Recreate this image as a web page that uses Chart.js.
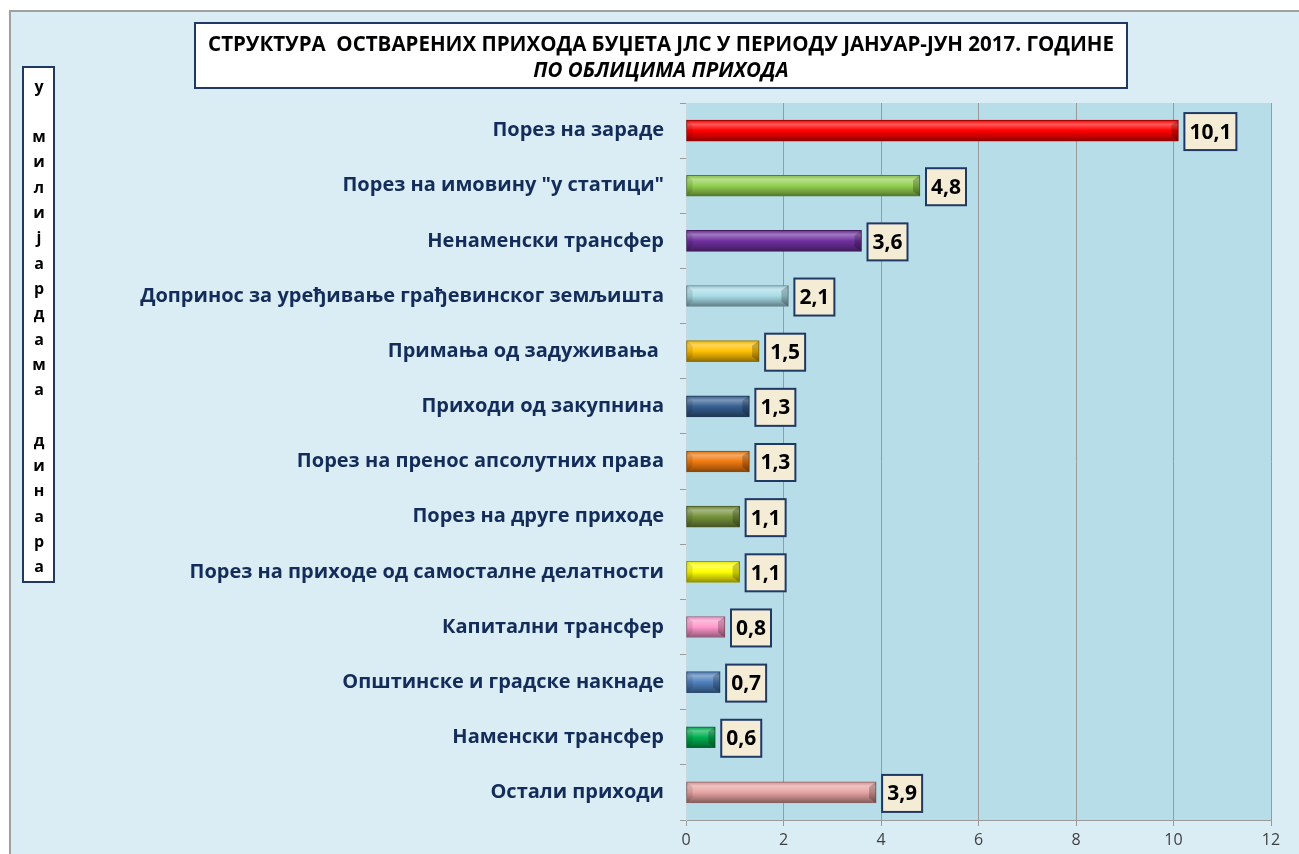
<!DOCTYPE html>
<html>
<head>
<meta charset="utf-8">
<script src="https://cdn.jsdelivr.net/npm/chart.js@4/dist/chart.umd.min.js"></script>
<style>
  html, body { margin: 0; padding: 0; background: #fff; }
  #wrap { width: 1299px; height: 854px; position: relative; }
</style>
</head>
<body>
<div id="wrap"><canvas id="chart" width="1299" height="854"></canvas></div>
<script>
const categories = [
  "Порез на зараде",
  "Порез на имовину \"у статици\"",
  "Ненаменски трансфер",
  "Допринос за уређивање грађевинског земљишта",
  "Примања од задуживања ",
  "Приходи од закупнина",
  "Порез на пренос апсолутних права",
  "Порез на друге приходе",
  "Порез на приходе од самосталне делатности",
  "Капитални трансфер",
  "Општинске и градске накнаде",
  "Наменски трансфер",
  "Остали приходи"
];
const values = [10.1, 4.8, 3.6, 2.1, 1.5, 1.3, 1.3, 1.1, 1.1, 0.8, 0.7, 0.6, 3.9];
const barColors = [
  "#ff0000", "#92d050", "#7030a0", "#a8dbe6", "#ffc000", "#376092", "#f07a10",
  "#76923c", "#ffff00", "#ff99cc", "#4f81bd", "#00b050", "#e6a3a2"
];
const xTicks = [0, 2, 4, 6, 8, 10, 12];
const titleLines = ["СТРУКТУРА  ОСТВАРЕНИХ ПРИХОДА БУЏЕТА ЈЛС У ПЕРИОДУ ЈАНУАР-ЈУН 2017. ГОДИНЕ", "ПО ОБЛИЦИМА ПРИХОДА"];
const yTitleLetters = ["у", "", "м", "и", "л", "и", "ј", "а", "р", "д", "а", "м", "а", "", "д", "и", "н", "а", "р", "а"];

const FONT = "'Open Sans', 'Noto Sans', 'DejaVu Sans', sans-serif";

function shade(hex, amt) {
  // amt > 0 lighten toward white, < 0 darken toward black
  const n = parseInt(hex.slice(1), 16);
  let r = n >> 16, g = (n >> 8) & 255, b = n & 255;
  const t = amt < 0 ? 0 : 255, p = Math.abs(amt);
  r = Math.round(r + (t - r) * p); g = Math.round(g + (t - g) * p); b = Math.round(b + (t - b) * p);
  return `rgb(${r},${g},${b})`;
}

function barFill(ctx) {
  const chart = ctx.chart;
  const base = barColors[ctx.dataIndex];
  if (!chart.chartArea || !chart.scales.y) return base;
  const yc = chart.scales.y.getPixelForValue(ctx.dataIndex);
  const g = chart.ctx.createLinearGradient(0, yc - 10.5, 0, yc + 10.5);
  g.addColorStop(0, shade(base, -0.1));
  g.addColorStop(0.2, shade(base, 0.35));
  g.addColorStop(0.5, base);
  g.addColorStop(0.8, shade(base, -0.25));
  g.addColorStop(1, shade(base, -0.45));
  return g;
}

const decor = {
  id: "decor",
  beforeDraw(chart) {
    const c = chart.ctx, a = chart.chartArea;
    c.save();
    c.fillStyle = "#ffffff";
    c.fillRect(0, 0, chart.width, chart.height);
    c.fillStyle = "#daedf4";
    c.fillRect(10, 11, chart.width - 10, chart.height - 11);
    c.strokeStyle = "#a0a0a0";
    c.lineWidth = 2;
    c.beginPath();
    c.moveTo(10, chart.height); c.lineTo(10, 11); c.lineTo(chart.width, 11);
    c.stroke();
    c.fillStyle = "#b7dde8";
    c.fillRect(a.left, a.top, a.right - a.left, a.bottom - a.top);
    c.restore();
  },
  afterDatasetsDraw(chart) {
    const c = chart.ctx;
    const meta = chart.getDatasetMeta(0);
    c.save();
    // bevel ends
    meta.data.forEach((bar, i) => {
      const h = 21, top = bar.y - h / 2, x0 = bar.base, x1 = bar.x;
      c.fillStyle = "rgba(0,0,0,0.22)";
      c.beginPath();
      c.moveTo(x1, top); c.lineTo(x1 - 7, top + 5); c.lineTo(x1 - 7, top + h - 5); c.lineTo(x1, top + h);
      c.closePath(); c.fill();
      c.fillStyle = "rgba(0,0,0,0.1)";
      c.beginPath();
      c.moveTo(x0, top); c.lineTo(x0 + 6, top + 5); c.lineTo(x0 + 6, top + h - 5); c.lineTo(x0, top + h);
      c.closePath(); c.fill();
    });
    // value boxes
    c.font = "bold 21px " + FONT;
    c.textAlign = "center";
    c.textBaseline = "middle";
    meta.data.forEach((bar, i) => {
      const txt = values[i].toFixed(1).replace(".", ",");
      const w = c.measureText(txt).width + 10;
      const hgt = 37;
      const left = bar.x + 6, top = bar.y - hgt / 2 + 1;
      c.fillStyle = "#f5ecd6";
      c.fillRect(left, top, w, hgt);
      c.strokeStyle = "#1f3864";
      c.lineWidth = 2;
      c.strokeRect(left, top, w, hgt);
      c.fillStyle = "#000";
      c.fillText(txt, left + w / 2, bar.y + 2);
    });
    c.restore();
  },
  afterDraw(chart) {
    const c = chart.ctx;
    c.save();
    // title box
    c.fillStyle = "#ffffff";
    c.fillRect(195, 23, 932, 65);
    c.strokeStyle = "#1f3864";
    c.lineWidth = 2;
    c.strokeRect(195, 23, 932, 65);
    c.fillStyle = "#000";
    c.textAlign = "center";
    c.textBaseline = "middle";
    c.font = "bold 20.5px " + FONT;
    c.fillText(titleLines[0], 661, 45);
    c.font = "italic bold 20.5px " + FONT;
    c.fillText(titleLines[1], 661, 71);
    // vertical axis title box
    c.fillStyle = "#ffffff";
    c.fillRect(23, 67, 31, 515);
    c.strokeRect(23, 67, 31, 515);
    c.fillStyle = "#000";
    c.font = "bold 16px " + FONT;
    yTitleLetters.forEach((ch, i) => {
      if (ch) c.fillText(ch, 39, 87 + i * 25.3);
    });
    c.restore();
  }
};

new Chart(document.getElementById("chart").getContext("2d"), {
  type: "bar",
  data: {
    labels: categories,
    datasets: [{
      data: values,
      backgroundColor: barFill,
      borderColor: barColors.map(col => shade(col, -0.4)),
      borderWidth: 1,
      borderSkipped: false,
      barThickness: 21
    }]
  },
  options: {
    indexAxis: "y",
    responsive: false,
    animation: false,
    layout: { padding: { left: 0, top: 103, right: 28, bottom: 0 } },
    plugins: { legend: { display: false }, tooltip: { enabled: false } },
    scales: {
      x: {
        min: 0, max: 12,
        afterBuildTicks: s => { s.ticks = xTicks.map(v => ({ value: v })); },
        afterFit: s => { s.height = 34; },
        grid: { color: "#9a9a9a", tickLength: 6, tickColor: "#9a9a9a" },
        border: { color: "#9a9a9a" },
        ticks: { color: "#404040", font: { family: FONT, size: 16 }, padding: 5 }
      },
      y: {
        afterFit: s => { s.width = 686; },
        grid: { drawOnChartArea: false, color: "#9a9a9a", tickLength: 6 },
        border: { color: "#c8d8de" },
        ticks: { color: "#132c5a", font: { family: FONT, size: 20, weight: "bold" }, padding: 16 }
      }
    }
  },
  plugins: [decor]
});
</script>
</body>
</html>
